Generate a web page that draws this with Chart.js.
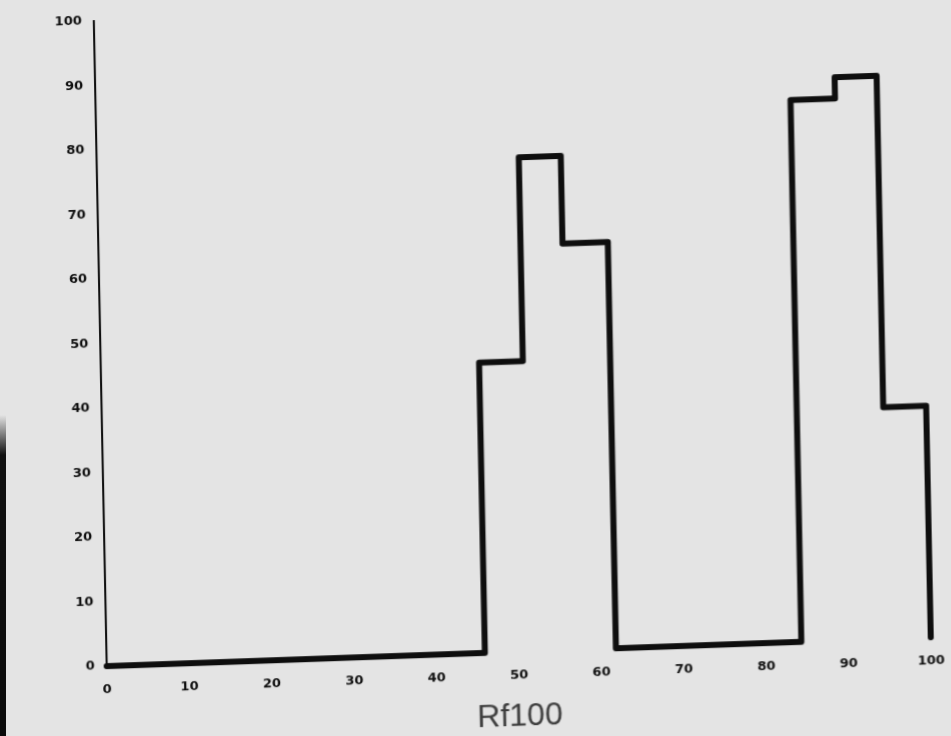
<!DOCTYPE html>
<html>
<head>
<meta charset="utf-8">
<script src="https://cdn.jsdelivr.net/npm/chart.js@4.4.1/dist/chart.umd.min.js"></script>
<style>
  html, body { margin: 0; padding: 0; background: #e4e4e4; overflow: hidden; }
  /* the scanned page sits slightly skewed */
  #wrap { width: 951px; height: 736px; transform: matrix(1, -0.035, 0.02, 1, 0, 0); transform-origin: 475px 368px; }
  #edge { position: absolute; left: 0; top: 415px; width: 6px; height: 321px;
          background: linear-gradient(#e4e4e4, #111 40px, #0a0a0a); }
</style>
</head>
<body>
<div id="wrap"><canvas id="myChart" width="951" height="736"></canvas></div>
<div id="edge"></div>
<script>
// step edges along Rf100 and the level held over each interval
let edges = [0, 45.9, 51.2, 56.3, 61.8, 84.3, 89.7, 94.8, 100];
let levels = [0, 45.0, 76.6, 63.0, 0, 84.0, 87.3, 35.9];
let xTicks = [0, 10, 20, 30, 40, 50, 60, 70, 80, 90, 100];
let yTicks = [0, 10, 20, 30, 40, 50, 60, 70, 80, 90, 100];
let xTitle = 'Rf100';

function stepPoints(){
    // each level runs from edges[i] to edges[i+1]
    let pts = [];
    for(let i = 0; i < levels.length; i++){
        pts.push({x: edges[i], y: levels[i]});
        pts.push({x: edges[i + 1], y: levels[i]});
    }
    // close the last block back down to zero
    pts.push({x: edges[edges.length - 1], y: 0});
    return pts;
}

let ink = '#0e0e0e';

let ctx = document.getElementById('myChart').getContext('2d');
let myChart = new Chart(ctx, {
    type: 'line',
    data: {
        datasets: [{
            data: stepPoints(),
            borderColor: ink,
            borderWidth: 6,
            borderJoinStyle: 'round',
            borderCapStyle: 'round',
            pointRadius: 0,
            tension: 0,
            fill: false,
            clip: false,
        }],
    },
    options: {
        responsive: false,
        animation: false,
        devicePixelRatio: 1,
        layout: {padding: {top: 8, right: 26, left: 1, bottom: 0}},
        plugins: {
            legend: {display: false},
            tooltip: {enabled: false},
        },
        scales: {
            x: {
                type: 'linear',
                min: 0,
                max: 100,
                afterBuildTicks: (s) => { s.ticks = xTicks.map(v => ({value: v})); },
                afterFit: (s) => { s.height = 83; s.paddingRight = 0; s.paddingLeft = 0; },
                grid: {display: false, drawTicks: false},
                border: {display: false},
                ticks: {
                    color: ink,
                    padding: 16,
                    maxRotation: 0,
                    font: {family: 'DejaVu Sans', size: 13, weight: 'bold'},
                },
                title: {
                    display: true,
                    text: xTitle,
                    color: '#3c3c3c',
                    padding: {top: 0, bottom: 0},
                    font: {family: 'Liberation Sans', size: 32, weight: 'normal', lineHeight: 1.1},
                },
            },
            y: {
                type: 'linear',
                min: 0,
                max: 100,
                afterBuildTicks: (s) => { s.ticks = yTicks.map(v => ({value: v})); },
                afterFit: (s) => { s.width = 100; s.paddingTop = 0; s.paddingBottom = 0; },
                grid: {display: false, drawTicks: false},
                border: {display: true, color: ink, width: 2},
                ticks: {
                    color: ink,
                    padding: 12,
                    font: {family: 'DejaVu Sans', size: 13, weight: 'bold'},
                },
            },
        },
    },
});
</script>
</body>
</html>
